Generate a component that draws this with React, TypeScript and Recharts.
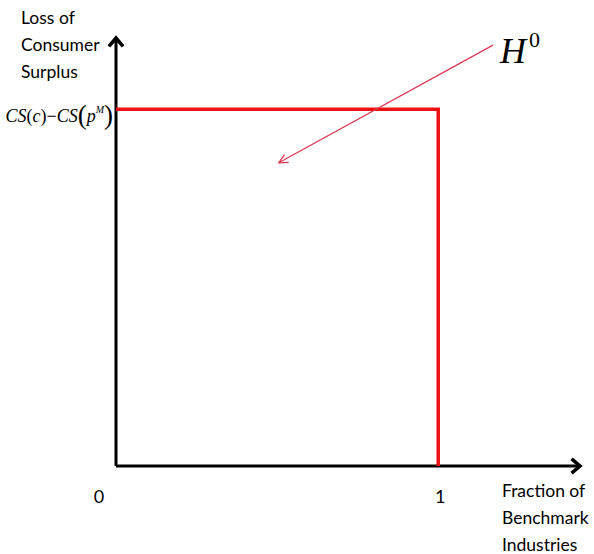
import React from "react";
import {
    LineChart,
    Line,
    XAxis,
    YAxis,
    ReferenceLine,
    Customized,
} from "recharts";

// the H0 step: loss stays at the full level up to fraction 1, then drops to 0
const fractions = [0, 1, 1];
const losses = [1, 1, 0];
const xTicks = [0, 1];
const xTickLabels = ["0", "1"];
const yTicks = [1];

const xMax = 1.44;
const yMax = 1.2;

// pointer from the H0 label into the box
const pointerFrom = { x: 1.17, y: 1.18 };
const pointerTo = { x: 0.505, y: 0.85 };

const data = fractions.map((f, i) => ({ fraction: f, loss: losses[i] }));

const labelFont = "Lato, 'Noto Sans', sans-serif";
const mathFont = "'Liberation Serif', 'DejaVu Serif', serif";

function XTick(props: any) {
    const { x, y, payload } = props;
    const idx = xTicks.indexOf(payload.value);
    const dx = payload.value === 0 ? -17 : 2;
    return (
        <text x={x + dx} y={y + 29} textAnchor="middle" fontFamily={labelFont} fontSize={18} fill="#000">
            {xTickLabels[idx]}
        </text>
    );
}

function YTick(props: any) {
    const { y } = props;
    return (
        <text x={113} y={y + 13} textAnchor="end" fontFamily={mathFont} fontSize={18} fill="#000">
            <tspan fontStyle="italic">CS</tspan>(<tspan fontStyle="italic">c</tspan>)−<tspan fontStyle="italic">CS</tspan>
            <tspan fontSize={27} dy={2}>(</tspan>
            <tspan fontStyle="italic" dy={-2}>p</tspan>
            <tspan fontStyle="italic" fontSize={10} dy={-9}>M</tspan>
            <tspan fontSize={27} dy={11}>)</tspan>
        </text>
    );
}

function AxisArrow(props: any) {
    const { x1, y1, x2, y2 } = props;
    const ang = Math.atan2(y2 - y1, x2 - x1);
    const len = 11;
    const spread = 0.7;
    const ax = x2 - len * Math.cos(ang - spread);
    const ay = y2 - len * Math.sin(ang - spread);
    const bx = x2 - len * Math.cos(ang + spread);
    const by = y2 - len * Math.sin(ang + spread);
    return (
        <g>
            <line x1={x1} y1={y1} x2={x2} y2={y2} stroke="#000" strokeWidth={3} />
            <polyline points={`${ax},${ay} ${x2},${y2} ${bx},${by}`} fill="none" stroke="#000" strokeWidth={3.5} />
        </g>
    );
}

function Pointer(props: any) {
    const { x1, y1, x2, y2 } = props;
    const ang = Math.atan2(y2 - y1, x2 - x1);
    const len = 10;
    const spread = 0.45;
    const ax = x2 - len * Math.cos(ang - spread);
    const ay = y2 - len * Math.sin(ang - spread);
    const bx = x2 - len * Math.cos(ang + spread);
    const by = y2 - len * Math.sin(ang + spread);
    return (
        <g>
            <line x1={x1} y1={y1} x2={x2} y2={y2} stroke="#dc3550" strokeWidth={1.2} />
            <polyline points={`${ax},${ay} ${x2},${y2} ${bx},${by}`} fill="none" stroke="#dc3550" strokeWidth={1.2} />
        </g>
    );
}

function Titles() {
    return (
        <g fontFamily={labelFont} fontSize={17.5} fill="#000">
            <text x={21} y={24}>Loss of</text>
            <text x={21} y={51}>Consumer</text>
            <text x={21} y={78}>Surplus</text>
            <text x={502} y={497}>Fraction of</text>
            <text x={502} y={524}>Benchmark</text>
            <text x={502} y={551}>Industries</text>
            <text x={500} y={63} fontFamily={mathFont} fontStyle="italic" fontSize={36}>H</text>
            <text x={529} y={47} fontFamily={mathFont} fontSize={22}>0</text>
        </g>
    );
}

export default function App() {
    return (
        <div style={{ position: "absolute", left: 0, top: 0, width: 594, height: 554, background: "#fff" }}>
            <LineChart
                width={594}
                height={554}
                data={data}
                margin={{ top: 38, right: 14, left: 16, bottom: 58 }}
            >
                <XAxis
                    dataKey="fraction"
                    type="number"
                    domain={[0, xMax]}
                    ticks={xTicks}
                    axisLine={false}
                    tickLine={false}
                    height={30}
                    tick={<XTick />}
                />
                <YAxis
                    type="number"
                    domain={[0, yMax]}
                    ticks={yTicks}
                    axisLine={false}
                    tickLine={false}
                    width={100}
                    tick={<YTick />}
                />
                <ReferenceLine
                    segment={[{ x: 0, y: 0 }, { x: xMax, y: 0 }]}
                    ifOverflow="visible"
                    shape={<AxisArrow />}
                />
                <ReferenceLine
                    segment={[{ x: 0, y: 0 }, { x: 0, y: yMax }]}
                    ifOverflow="visible"
                    shape={<AxisArrow />}
                />
                <Line
                    type="linear"
                    dataKey="loss"
                    stroke="#ee1111"
                    strokeWidth={3.5}
                    dot={false}
                    isAnimationActive={false}
                />
                <ReferenceLine
                    segment={[pointerFrom, pointerTo]}
                    ifOverflow="visible"
                    shape={<Pointer />}
                />
                <Customized component={<Titles />} />
            </LineChart>
        </div>
    );
}
